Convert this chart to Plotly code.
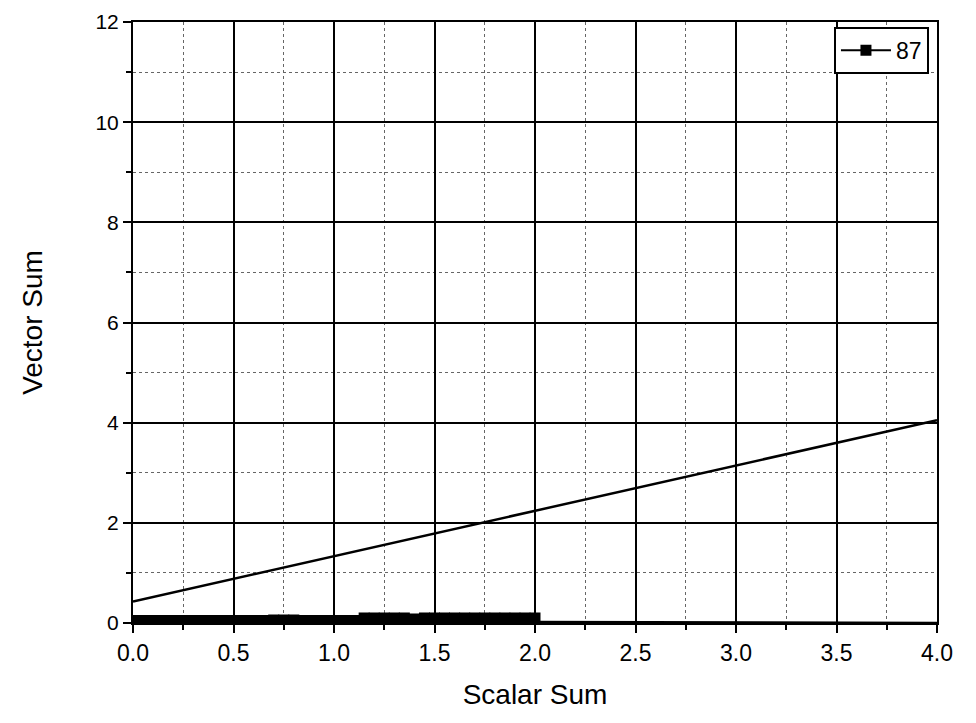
import plotly.graph_objects as go

# Series "87" (scalar sum vs vector sum), dense points near zero
s87_x = [0.00, 0.05, 0.10, 0.15, 0.20, 0.25, 0.30, 0.35, 0.40, 0.45, 0.50,
         0.55, 0.60, 0.65, 0.70, 0.75, 0.80, 0.85, 0.90, 0.95, 1.00,
         1.05, 1.10, 1.15, 1.20, 1.25, 1.30, 1.35, 1.40, 1.45, 1.50,
         1.55, 1.60, 1.65, 1.70, 1.75, 1.80, 1.85, 1.90, 1.95, 2.00]
s87_y = [0.05, 0.05, 0.05, 0.05, 0.05, 0.05, 0.05, 0.05, 0.05, 0.05, 0.05,
         0.05, 0.05, 0.05, 0.06, 0.06, 0.06, 0.05, 0.05, 0.05, 0.05,
         0.05, 0.05, 0.10, 0.10, 0.10, 0.10, 0.10, 0.08, 0.10, 0.10,
         0.10, 0.10, 0.10, 0.10, 0.10, 0.10, 0.10, 0.10, 0.10, 0.10]
# trailing thin line
tail_x = [2.00, 4.00]
tail_y = [0.02, 0.00]
# straight fit line
fit_x = [0.0, 4.0]
fit_y = [0.43, 4.05]

fig = go.Figure()
fig.add_trace(go.Scatter(x=tail_x, y=tail_y, mode="lines",
                         line=dict(color="black", width=2.5), showlegend=False,
                         hoverinfo="skip"))
fig.add_trace(go.Scatter(x=fit_x, y=fit_y, mode="lines",
                         line=dict(color="black", width=2.5), showlegend=False))
fig.add_trace(go.Scatter(x=s87_x, y=s87_y, mode="lines+markers", name="87",
                         line=dict(color="black", width=2),
                         marker=dict(symbol="square", size=11, color="black")))

fam = "Arial, Liberation Sans, sans-serif"

fig.update_layout(
    width=976, height=723,
    margin=dict(l=125, r=47, t=14, b=108),
    paper_bgcolor="white", plot_bgcolor="white",
    showlegend=True,
    legend=dict(x=0.99, y=0.992, xanchor="right", yanchor="top",
                bgcolor="white", bordercolor="black", borderwidth=2,
                itemwidth=50,
                font=dict(family=fam, size=23, color="black")),
    xaxis=dict(range=[0, 4], dtick=0.5, tickformat=".1f", automargin=False,
               showgrid=True, gridcolor="black", gridwidth=2,
               minor=dict(dtick=0.25, showgrid=True, gridcolor="#666", griddash="dot",
                          gridwidth=1, ticks="outside", ticklen=5, tickcolor="black", tickwidth=2),
               ticks="outside", ticklen=8, tickwidth=2, tickcolor="black",
               showline=True, linecolor="black", linewidth=2, mirror=True,
               zeroline=False, tickfont=dict(family=fam, size=23, color="black"),
               title=dict(text="Scalar Sum", font=dict(family=fam, size=28, color="black"),
                          standoff=20)),
    yaxis=dict(range=[0, 12], dtick=2, automargin=False,
               showgrid=True, gridcolor="black", gridwidth=2,
               minor=dict(dtick=1, showgrid=True, gridcolor="#666", griddash="dot",
                          gridwidth=1, ticks="outside", ticklen=5, tickcolor="black", tickwidth=2),
               ticks="outside", ticklen=8, tickwidth=2, tickcolor="black",
               showline=True, linecolor="black", linewidth=2, mirror=True,
               zeroline=False, tickfont=dict(family=fam, size=21, color="black"),
               title=dict(text="Vector Sum", font=dict(family=fam, size=28, color="black"),
                          standoff=45)),
)

fig.write_html("out.html")
